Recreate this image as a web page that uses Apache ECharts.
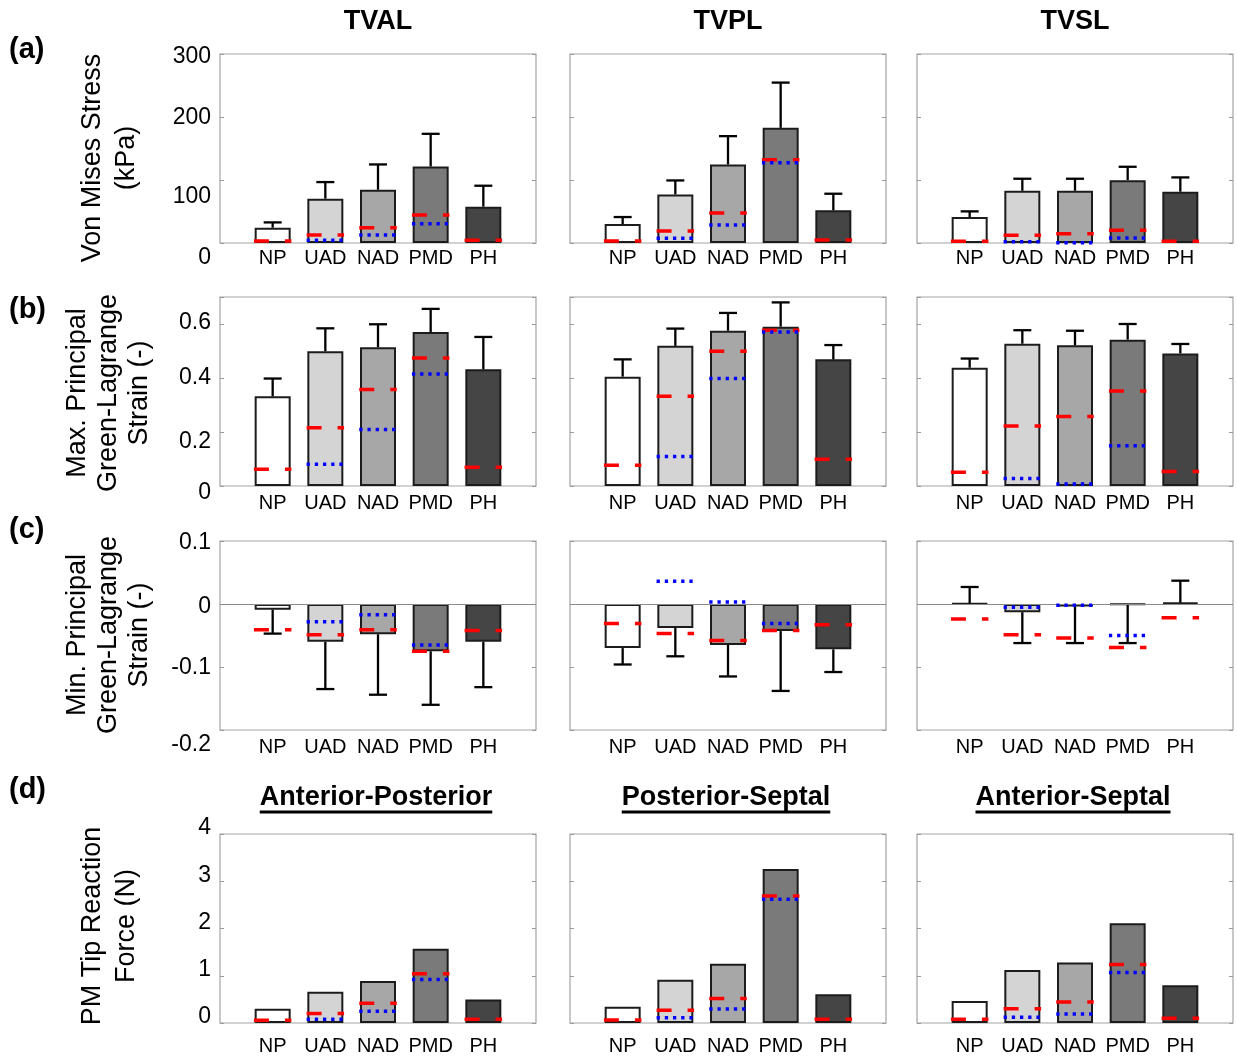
<!DOCTYPE html>
<html>
<head>
<meta charset="utf-8">
<script src="https://cdn.jsdelivr.net/npm/echarts@6/dist/echarts.min.js"></script>
<style>
  html, body { margin: 0; padding: 0; background: #fff; }
  #chart { width: 1237px; height: 1057px; }
</style>
</head>
<body>
<div id="chart"></div>
<script>
// ---- data -------------------------------------------------------------
const categories = ['NP', 'UAD', 'NAD', 'PMD', 'PH'];
const columnTitles = ['TVAL', 'TVPL', 'TVSL'];
const forceTitles = ['Anterior-Posterior', 'Posterior-Septal', 'Anterior-Septal'];

// (a) Von Mises stress, kPa  (one inner array per leaflet: TVAL, TVPL, TVSL)
const stressMean   = [[24.3, 70.3, 84.5, 121.5, 57.6], [30.1, 77.1, 124.7, 182.8, 51.8], [41.2, 82.9, 82.9, 99.8, 81.4]];
const stressSD     = [[8.4, 26.4, 40.2, 51.8, 33.3], [11.1, 22.2, 44.9, 71.8, 26.4], [9.0, 19.1, 19.1, 21.2, 22.7]];
const stressDashed = [[3.2, 12.7, 24.3, 44.4, 4.2], [3.2, 19.0, 47.5, 132.1, 4.8], [2.6, 12.2, 14.8, 20.1, 2.6]];
const stressDotted = [[null, 4.2, 12.7, 30.6, null], [null, 7.4, 28.5, 127.3, null], [null, 2.1, 0.5, 7.9, null]];
const stressTicks  = ['0', '100', '200', '300'];

// (b) maximum principal Green-Lagrange strain
const maxStrainMean   = [[0.332, 0.499, 0.514, 0.570, 0.432], [0.405, 0.519, 0.575, 0.590, 0.469], [0.438, 0.527, 0.521, 0.542, 0.491]];
const maxStrainSD     = [[0.066, 0.085, 0.085, 0.086, 0.120], [0.064, 0.064, 0.066, 0.090, 0.053], [0.034, 0.050, 0.054, 0.058, 0.035]];
const maxStrainDashed = [[0.062, 0.216, 0.357, 0.474, 0.069], [0.077, 0.332, 0.499, 0.577, 0.099], [0.051, 0.222, 0.257, 0.352, 0.054]];
const maxStrainDotted = [[null, 0.081, 0.209, 0.415, null], [null, 0.109, 0.398, 0.570, null], [null, 0.028, 0.007, 0.149, null]];
const maxStrainTicks  = ['0', '0.2', '0.4', '0.6'];

// (c) minimum principal Green-Lagrange strain
const minStrainMean   = [[-0.009, -0.060, -0.048, -0.075, -0.060], [-0.070, -0.038, -0.065, -0.043, -0.072], [0.001, -0.013, -0.004, -0.001, 0.002]];
const minStrainSD     = [[0.038, 0.075, 0.096, 0.085, 0.072], [0.026, 0.045, 0.050, 0.095, 0.036], [0.026, 0.049, 0.058, 0.061, 0.035]];
const minStrainDashed = [[-0.041, -0.049, -0.041, -0.075, -0.042], [-0.031, -0.047, -0.058, -0.042, -0.033], [-0.024, -0.049, -0.054, -0.069, -0.022]];
const minStrainDotted = [[null, -0.028, -0.017, -0.065, null], [null, 0.036, 0.003, -0.031, null], [null, -0.005, -0.002, -0.050, null]];
const minStrainTicks  = ['-0.2', '-0.1', '0', '0.1'];

// (d) papillary muscle tip reaction force, N (AP, PS, AS)
const forceMean   = [[0.30, 0.66, 0.89, 1.57, 0.50], [0.345, 0.915, 1.254, 3.26, 0.606], [0.465, 1.12, 1.28, 2.11, 0.80]];
const forceDashed = [[0.056, 0.20, 0.42, 1.04, 0.077], [0.063, 0.268, 0.521, 2.69, 0.077], [0.077, 0.303, 0.444, 1.24, 0.099]];
const forceDotted = [[null, 0.077, 0.25, 0.92, null], [null, 0.113, 0.296, 2.62, null], [null, 0.12, 0.19, 1.07, null]];
const forceTicks  = ['0', '1', '2', '3', '4'];

// ---- layout & style ---------------------------------------------------
const FONT = "'Liberation Sans', Arial, Helvetica, sans-serif";
const GRID_LEFT = [220, 570, 917];
const GRID_TOP = [54, 297, 541, 834];
const GRID_W = 316, GRID_H = 189;
const BAR_W = 36;          // bar body width (px)
const LINE_W = 37.5;       // reference line length (px)
const CAP_W = 18;          // error bar cap width (px)
const BAR_COLORS = ['#ffffff', '#d4d4d4', '#a7a7a7', '#7a7a7a', '#454545'];
const TICK_FONT = 23, CAT_FONT = 20, HEAD_FONT = 27, YTITLE_FONT = 27;

const rows = [
  { mean: stressMean, sd: stressSD, dashed: stressDashed, dotted: stressDotted, ticks: stressTicks,
    min: 0, max: 300, interval: 100, nudge: [15, 17, 1, 3], xMargin: 5,
    title: ['Von Mises Stress', '(kPa)'], titleX: 110, titleY: 158, titleGap: 34, letter: '(a)', letterY: 50 },
  { mean: maxStrainMean, sd: maxStrainSD, dashed: maxStrainDashed, dotted: maxStrainDotted, ticks: maxStrainTicks,
    min: 0, max: 0.7, interval: 0.2, nudge: [7, 10, 0, -1], xMargin: 7,
    title: ['Max. Principal', 'Green-Lagrange', 'Strain (-)'], titleX: 109, titleY: 393, titleGap: 31, letter: '(b)', letterY: 310 },
  { mean: minStrainMean, sd: minStrainSD, dashed: minStrainDashed, dotted: minStrainDotted, ticks: minStrainTicks,
    min: -0.2, max: 0.1, interval: 0.1, nudge: [15, 1, 3, 2], xMargin: 7, zeroLine: true,
    title: ['Min. Principal', 'Green-Lagrange', 'Strain (-)'], titleX: 109, titleY: 635, titleGap: 31, letter: '(c)', letterY: 530 },
  { mean: forceMean, sd: null, dashed: forceDashed, dotted: forceDotted, ticks: forceTicks,
    min: 0, max: 4, interval: 1, nudge: [-6, -6, -6, -6, -6], xMargin: 13,
    title: ['PM Tip Reaction', 'Force (N)'], titleX: 110, titleY: 926, titleGap: 34, letter: '(d)', letterY: 790 }
];

// ---- renderers --------------------------------------------------------
function renderError(params, api) {
  const x = api.value(0), m = api.value(1), s = api.value(2);
  const end = m >= 0 ? m + s : m - s;
  const p0 = api.coord([x, m]);
  const p1 = api.coord([x, end]);
  const st = { stroke: '#000', lineWidth: 2.3 };
  return {
    type: 'group',
    children: [
      { type: 'line', shape: { x1: p0[0], y1: p0[1], x2: p1[0], y2: p1[1] }, style: st },
      { type: 'line', shape: { x1: p1[0] - CAP_W / 2, y1: p1[1], x2: p1[0] + CAP_W / 2, y2: p1[1] }, style: st }
    ]
  };
}
function makeRefRenderer(color, dash) {
  return function (params, api) {
    const c = api.coord([api.value(0), api.value(1)]);
    return {
      type: 'line',
      shape: { x1: c[0] - LINE_W / 2, y1: c[1], x2: c[0] + LINE_W / 2, y2: c[1] },
      style: { stroke: color, lineWidth: 3.5, lineDash: dash, lineCap: 'butt' }
    };
  };
}
const renderDashed = makeRefRenderer('#ff0000', [15, 16]);
const renderDotted = makeRefRenderer('#0000ff', [3.3, 4.9]);

// ---- option assembly --------------------------------------------------
const grid = [], xAxis = [], yAxis = [], series = [];

rows.forEach((row, r) => {
  const rich = {};
  row.nudge.forEach((n, i) => {
    rich['n' + i] = {
      fontSize: TICK_FONT, fontFamily: FONT, color: '#000',
      padding: n >= 0 ? [2 * n, 0, 0, 0] : [0, 0, -2 * n, 0]
    };
  });
  const tickFormatter = (v) => {
    const idx = Math.round((v - row.min) / row.interval);
    if (idx < 0 || idx >= row.ticks.length) return '';
    if (Math.abs(row.min + idx * row.interval - v) > 1e-9) return '';
    return '{n' + idx + '|' + row.ticks[idx] + '}';
  };

  for (let c = 0; c < 3; c++) {
    const g = grid.length;
    grid.push({
      left: GRID_LEFT[c], top: GRID_TOP[r], width: GRID_W, height: GRID_H,
      show: true, borderColor: '#a3a3a3', borderWidth: 1.2, backgroundColor: '#fff'
    });
    xAxis.push({
      type: 'value', gridIndex: g, min: 0, max: 6, interval: 1,
      axisLine: { show: false, onZero: false },
      axisTick: { show: false }, splitLine: { show: false },
      axisLabel: {
        margin: row.xMargin, fontSize: CAT_FONT, fontFamily: FONT, color: '#000',
        formatter: (v) => categories[v - 1] || ''
      }
    });
    const yBase = {
      type: 'value', gridIndex: g, min: row.min, max: row.max, interval: row.interval,
      axisLine: { show: false }, splitLine: { show: false },
      axisTick: { show: true, inside: true, length: 4, lineStyle: { color: '#999', width: 1 } }
    };
    yAxis.push(Object.assign({}, yBase, {
      position: 'left',
      axisLabel: { show: c === 0, margin: 9, fontSize: TICK_FONT, fontFamily: FONT, color: '#000',
                   formatter: tickFormatter, rich: rich }
    }));
    yAxis.push(Object.assign({}, yBase, { position: 'right', axisLabel: { show: false } }));

    const yi = 2 * g;
    const barSeries = {
      type: 'bar', xAxisIndex: g, yAxisIndex: yi, barWidth: BAR_W, silent: true, z: 2,
      itemStyle: { borderColor: '#1c1c1c', borderWidth: 2 },
      data: row.mean[c].map((v, k) => ({ value: [k + 1, v], itemStyle: { color: BAR_COLORS[k] } }))
    };
    if (row.zeroLine) {
      barSeries.markLine = {
        silent: true, symbol: 'none', label: { show: false }, animation: false,
        lineStyle: { color: '#8a8a8a', width: 1, type: 'solid' },
        data: [{ yAxis: 0 }]
      };
    }
    series.push(barSeries);

    if (row.sd) {
      series.push({
        type: 'custom', xAxisIndex: g, yAxisIndex: yi, silent: true, z: 3,
        renderItem: renderError, encode: { x: 0, y: 1 },
        data: row.mean[c].map((v, k) => [k + 1, v, row.sd[c][k]])
      });
    }
    series.push({
      type: 'custom', xAxisIndex: g, yAxisIndex: yi, silent: true, z: 4,
      renderItem: renderDashed, encode: { x: 0, y: 1 },
      data: row.dashed[c].map((v, k) => [k + 1, v]).filter((d) => d[1] !== null)
    });
    series.push({
      type: 'custom', xAxisIndex: g, yAxisIndex: yi, silent: true, z: 5,
      renderItem: renderDotted, encode: { x: 0, y: 1 },
      data: row.dotted[c].map((v, k) => [k + 1, v]).filter((d) => d[1] !== null)
    });
  }
});

// ---- headings and axis titles ----------------------------------------
const graphics = [];
function textEl(x, y, text, opts) {
  return Object.assign({
    type: 'text', x: x, y: y, silent: true,
    style: Object.assign({
      text: text, fontFamily: FONT, fontSize: 24, fill: '#000',
      align: 'center', verticalAlign: 'middle', textAlign: 'center', textVerticalAlign: 'middle'
    }, opts && opts.style)
  }, opts && opts.el);
}

const measureCtx = document.createElement('canvas').getContext('2d');
function textWidth(text, font) { measureCtx.font = font; return measureCtx.measureText(text).width; }

columnTitles.forEach((t, c) => {
  graphics.push(textEl(GRID_LEFT[c] + GRID_W / 2, 22, t, { style: { fontWeight: 'bold', fontSize: HEAD_FONT } }));
});
forceTitles.forEach((t, c) => {
  const cx = GRID_LEFT[c] + GRID_W / 2 - 2;
  graphics.push(textEl(cx, 798, t, { style: { fontWeight: 'bold', fontSize: HEAD_FONT } }));
  const w = textWidth(t, 'bold ' + HEAD_FONT + "px 'Liberation Sans', Arial, sans-serif");
  graphics.push({
    type: 'line', silent: true,
    shape: { x1: cx - w / 2, y1: 812, x2: cx + w / 2, y2: 812 },
    style: { stroke: '#000', lineWidth: 2.8 }
  });
});
rows.forEach((row) => {
  graphics.push(textEl(9, row.letterY, row.letter, {
    style: { fontWeight: 'bold', fontSize: 29, align: 'left', textAlign: 'left' }
  }));
  graphics.push(textEl(row.titleX, row.titleY, row.title.join('\n'), {
    el: { rotation: Math.PI / 2 },
    style: { fontSize: YTITLE_FONT, lineHeight: row.titleGap }
  }));
});

const chart = echarts.init(document.getElementById('chart'), null, { renderer: 'canvas' });
chart.setOption({
  backgroundColor: '#ffffff',
  animation: false,
  grid: grid,
  xAxis: xAxis,
  yAxis: yAxis,
  series: series,
  graphic: graphics
});
</script>
</body>
</html>
